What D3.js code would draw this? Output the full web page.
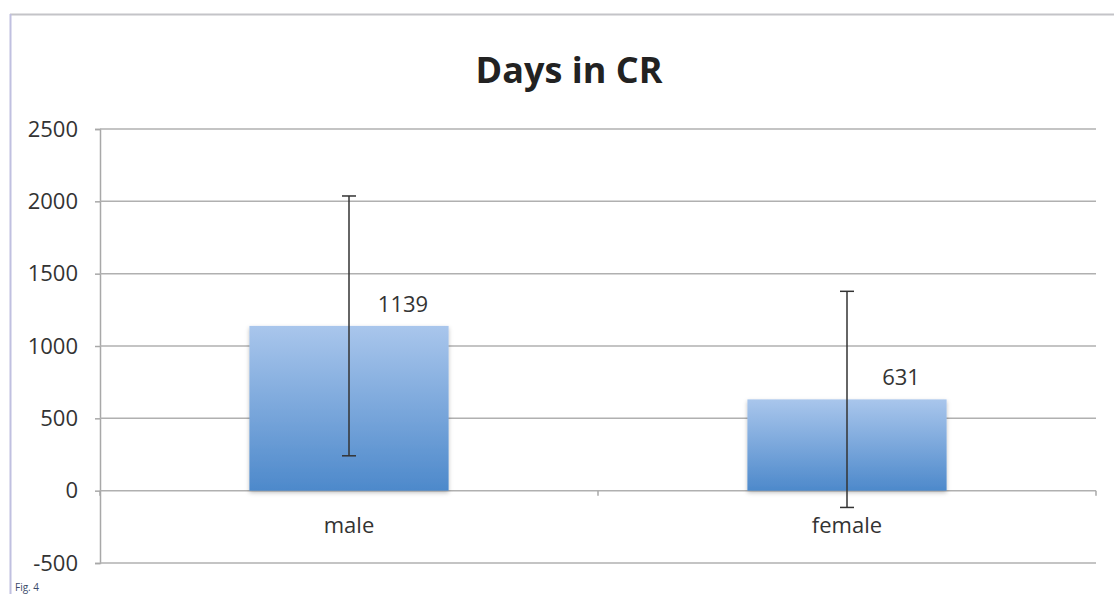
<!DOCTYPE html>
<html>
<head>
<meta charset="utf-8">
<script src="https://cdn.jsdelivr.net/npm/d3@7"></script>
<style>
  body { margin: 0; background: #fff; }
  svg { display: block; font-family: "Open Sans", "Liberation Sans", sans-serif; }
</style>
</head>
<body>
<div id="chart"></div>
<script>
// data
const categories = ["male", "female"];
const values = [1139, 631];
const errors = [898, 747];
const yTicks = [-500, 0, 500, 1000, 1500, 2000, 2500];

const width = 1114, height = 594;
const margin = { left: 100, right: 18, top: 129, bottom: 31 };
const font = '"Open Sans", "Liberation Sans", sans-serif';

const svg = d3.select("#chart").append("svg")
    .attr("width", width)
    .attr("height", height);

// frame lines
svg.append("line").attr("x1", 10).attr("x2", width).attr("y1", 14.5).attr("y2", 14.5)
    .attr("stroke", "#c4c4c8").attr("stroke-width", 2);
svg.append("line").attr("x1", 10.5).attr("x2", 10.5).attr("y1", 14).attr("y2", height)
    .attr("stroke", "#c0c0e0").attr("stroke-width", 2);

const y = d3.scaleLinear()
    .domain([-500, 2500])
    .range([height - margin.bottom, margin.top]);

const x = d3.scaleBand()
    .domain(categories)
    .range([margin.left, width - margin.right])
    .paddingInner(0.6)
    .paddingOuter(0.3);

// gradient for bars
const defs = svg.append("defs");
const grad = defs.append("linearGradient").attr("id", "barGrad")
    .attr("x1", 0).attr("x2", 0).attr("y1", 0).attr("y2", 1);
grad.append("stop").attr("offset", "0%").attr("stop-color", "#a9c6ec");
grad.append("stop").attr("offset", "100%").attr("stop-color", "#4d89cb");

const shadow = defs.append("filter").attr("id", "shadow")
    .attr("x", "-5%").attr("y", "-5%").attr("width", "110%").attr("height", "115%");
shadow.append("feDropShadow").attr("dx", 0).attr("dy", 2).attr("stdDeviation", 2)
    .attr("flood-color", "#000").attr("flood-opacity", 0.25);

// y axis
const yAxis = d3.axisLeft(y).tickValues(yTicks).tickSize(5).tickPadding(17)
    .tickFormat(d => String(d));
const gy = svg.append("g")
    .attr("transform", "translate(" + margin.left + ",0)")
    .call(yAxis);
gy.attr("font-family", font).attr("font-size", 22);
gy.select(".domain").attr("stroke", "#a8a8a8").attr("stroke-width", 1.5);
gy.selectAll(".tick line").attr("stroke", "#a8a8a8").attr("stroke-width", 1.5);
gy.selectAll(".tick text").attr("fill", "#333");

// gridlines
svg.append("g").selectAll("line")
    .data(yTicks).enter().append("line")
    .attr("x1", margin.left).attr("x2", width - margin.right)
    .attr("y1", d => y(d)).attr("y2", d => y(d))
    .attr("stroke", "#b0b0b0").attr("stroke-width", 1.5);

// bars
svg.append("g").selectAll("rect")
    .data(categories).enter().append("rect")
    .attr("x", d => x(d))
    .attr("width", x.bandwidth())
    .attr("y", (d, i) => y(values[i]))
    .attr("height", (d, i) => y(0) - y(values[i]))
    .attr("fill", "url(#barGrad)")
    .attr("filter", "url(#shadow)");

// category axis ticks on zero line
const step = x.step();
const catTicks = [margin.left, margin.left + step, margin.left + 2 * step];
svg.append("g").selectAll("line")
    .data(catTicks).enter().append("line")
    .attr("x1", d => d).attr("x2", d => d)
    .attr("y1", y(0)).attr("y2", y(0) + 5)
    .attr("stroke", "#a8a8a8").attr("stroke-width", 1.5);

// category labels
svg.append("g").selectAll("text")
    .data(categories).enter().append("text")
    .attr("x", d => x(d) + x.bandwidth() / 2)
    .attr("y", y(0) + 42)
    .attr("text-anchor", "middle")
    .attr("font-size", 22)
    .attr("fill", "#333")
    .text(d => d);

// error bars
const eb = svg.append("g").attr("stroke", "#333").attr("stroke-width", 1.5);
categories.forEach(function (c, i) {
    const cx = x(c) + x.bandwidth() / 2;
    const hi = y(values[i] + errors[i]), lo = y(values[i] - errors[i]);
    eb.append("line").attr("x1", cx).attr("x2", cx).attr("y1", hi).attr("y2", lo);
    eb.append("line").attr("x1", cx - 7).attr("x2", cx + 7).attr("y1", hi).attr("y2", hi);
    eb.append("line").attr("x1", cx - 7).attr("x2", cx + 7).attr("y1", lo).attr("y2", lo);
});

// value labels
svg.append("g").selectAll("text")
    .data(categories).enter().append("text")
    .attr("x", d => x(d) + x.bandwidth() / 2 + 54)
    .attr("y", (d, i) => y(values[i]) - 14)
    .attr("text-anchor", "middle")
    .attr("font-size", 22)
    .attr("fill", "#333")
    .text((d, i) => values[i]);

// title
svg.append("text")
    .attr("x", 569).attr("y", 83)
    .attr("text-anchor", "middle")
    .attr("font-size", 36)
    .attr("font-weight", "bold")
    .attr("fill", "#222")
    .text("Days in CR");

// figure label
svg.append("text")
    .attr("x", 15).attr("y", 591)
    .attr("font-size", 10)
    .attr("fill", "#3a4a6a")
    .text("Fig. 4");
</script>
</body>
</html>
